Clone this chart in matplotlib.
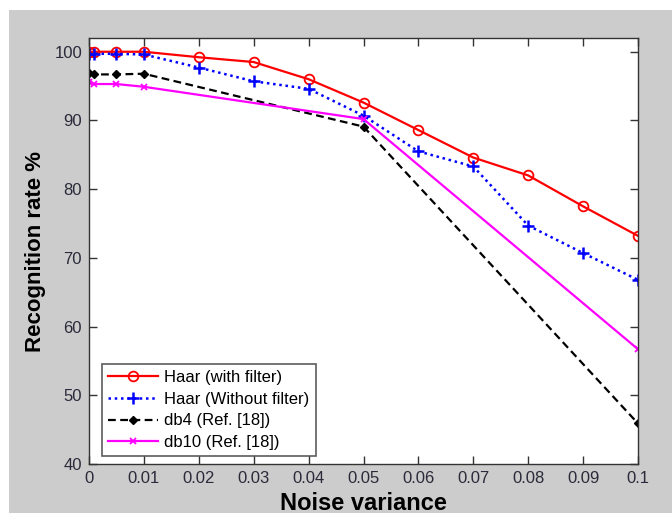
import matplotlib
matplotlib.use("Agg")
import matplotlib.pyplot as plt
from matplotlib.patches import Rectangle

plt.rcParams['font.family'] = ['Liberation Sans', 'DejaVu Sans']

# Noise variance levels
x_full = [0, 0.001, 0.005, 0.01, 0.02, 0.03, 0.04, 0.05, 0.06, 0.07, 0.08, 0.09, 0.1]
x_ref = [0, 0.001, 0.005, 0.01, 0.05, 0.1]

# Recognition rates (%)
haar_filter = [100, 100, 100, 100, 99.2, 98.5, 96.0, 92.6, 88.6, 84.6, 82.0, 77.5, 73.2]
haar_nofilter = [99.7, 99.7, 99.7, 99.6, 97.7, 95.7, 94.6, 90.7, 85.5, 83.3, 74.7, 70.7, 66.8]
db4 = [96.9, 96.7, 96.7, 96.8, 89.1, 45.9]
db10 = [95.6, 95.3, 95.3, 94.9, 90.2, 56.7]

xticks = [0, 0.01, 0.02, 0.03, 0.04, 0.05, 0.06, 0.07, 0.08, 0.09, 0.1]
xtick_labels = ['0', '0.01', '0.02', '0.03', '0.04', '0.05', '0.06', '0.07', '0.08', '0.09', '0.1']
yticks = [40, 50, 60, 70, 80, 90, 100]

W, H = 672, 513
fig = plt.figure(figsize=(W / 100, H / 100), dpi=100, facecolor='white')
fig.patches.append(Rectangle((9 / W, 0), 1 - 9 / W, (H - 10) / H,
                             transform=fig.transFigure, facecolor='#cccccc',
                             edgecolor='none', zorder=-10))

ax = fig.add_axes([89 / W, (H - 464) / H, (638 - 89) / W, (464 - 38) / H])
ax.set_facecolor('white')

ax.plot(x_full, haar_filter, color='#ff0000', lw=1.6, marker='o', ms=7,
        mfc='none', mec='#ff0000', mew=1.3, label='Haar (with filter)')
ax.plot(x_full, haar_nofilter, color='#0000ff', lw=1.8, ls=(0, (1, 1.5)), marker='+',
        ms=9, mew=1.8, label='Haar (Without filter)')
ax.plot(x_ref, db4, color='black', lw=1.6, ls=(0, (3.5, 2)), marker='D', ms=4.5,
        label='db4 (Ref. [18])')
ax.plot(x_ref, db10, color='#ff00ff', lw=1.6, marker='x', ms=4, mew=1.3,
        label='db10 (Ref. [18])')

ax.set_xlim(0, 0.1)
ax.set_ylim(40, 102)
ax.set_xticks(xticks)
ax.set_xticklabels(xtick_labels)
ax.set_yticks(yticks)
ax.tick_params(direction='in', top=True, right=True, length=6, width=1,
               labelsize=12, labelcolor='#2a2a3a', color='#333333', pad=5)
for s in ax.spines.values():
    s.set_color('#333333')
    s.set_linewidth(1)

ax.set_xlabel('Noise variance', fontsize=17, fontweight='bold', labelpad=4)
ax.set_ylabel('Recognition rate %', fontsize=16, fontweight='bold', labelpad=6)

leg = ax.legend(loc='lower left', bbox_to_anchor=(13 / 549, 8 / 426), fontsize=12,
                frameon=True, fancybox=False, edgecolor='#333333',
                borderpad=0.35, labelspacing=0.4, handlelength=3.0,
                handletextpad=0.4, borderaxespad=0)
leg.get_frame().set_linewidth(1.2)

fig.savefig('out.png', dpi=100, facecolor=fig.get_facecolor())
